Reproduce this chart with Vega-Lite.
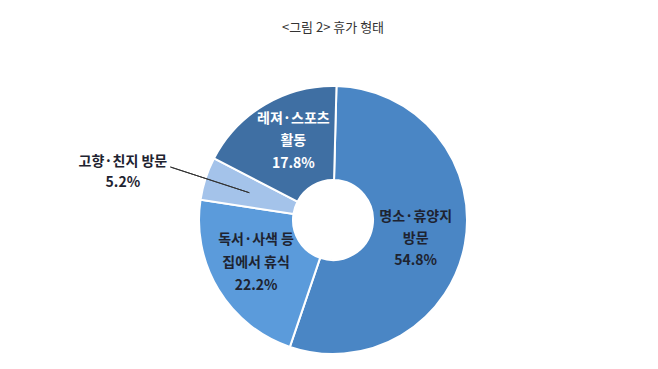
{
  "$schema": "https://vega.github.io/schema/vega-lite/v6.json",
  "autosize": "none",
  "width": 650,
  "height": 298,
  "padding": {"left": 8, "right": 0, "top": 71, "bottom": 0},
  "background": "white",
  "view": {"stroke": null},
  "title": {"text": "<그림 2> 휴가 형태", "font": "Noto Sans CJK KR", "fontSize": 13, "fontWeight": "normal", "color": "#333333", "anchor": "middle", "offset": -2},
  "data": {"values": [
    {"cat": "명소·휴양지 방문", "value": 54.8, "ord": 1, "label": ["명소·휴양지", "방문", "54.8%"]},
    {"cat": "독서·사색 등 집에서 휴식", "value": 22.2, "ord": 2, "label": ["독서·사색 등", "집에서 휴식", "22.2%"]},
    {"cat": "고향·친지 방문", "value": 5.2, "ord": 3, "label": ["고향·친지 방문", "5.2%"]},
    {"cat": "레져·스포츠 활동", "value": 17.8, "ord": 4, "label": ["레져·스포츠", "활동", "17.8%"]}
  ]},
  "encoding": {
    "theta": {"field": "value", "type": "quantitative", "stack": true, "scale": {"range": [0.026, 6.3092]}},
    "order": {"field": "ord", "type": "quantitative"}
  },
  "layer": [
    {
      "mark": {"type": "arc", "radius": 134, "innerRadius": 40, "stroke": "white", "strokeWidth": 2},
      "encoding": {
        "color": {"field": "cat", "type": "nominal", "legend": null,
          "scale": {"domain": ["명소·휴양지 방문", "독서·사색 등 집에서 휴식", "고향·친지 방문", "레져·스포츠 활동"],
                    "range": ["#4a86c5", "#5b9bdb", "#a4c3ea", "#3f6fa3"]}}
      }
    },
    {
      "mark": {"type": "arc", "radius": 171, "innerRadius": 88, "padAngle": 1.5, "filled": false, "stroke": "#333333", "strokeWidth": 1},
      "encoding": {
        "strokeOpacity": {"condition": {"test": "datum.cat === '고향·친지 방문'", "value": 1}, "value": 0}
      }
    },
    {
      "mark": {"type": "text", "radius": 84, "dy": -18, "font": "Noto Sans CJK KR", "fontSize": 14, "fontWeight": "bold", "lineHeight": 22, "color": "#1e2330"},
      "encoding": {
        "text": {"field": "label", "type": "nominal"},
        "opacity": {"condition": {"test": "datum.cat === '명소·휴양지 방문'", "value": 1}, "value": 0}
      }
    },
    {
      "mark": {"type": "text", "radius": 90, "dy": -27, "font": "Noto Sans CJK KR", "fontSize": 14, "fontWeight": "bold", "lineHeight": 23, "color": "#1e2330"},
      "encoding": {
        "text": {"field": "label", "type": "nominal"},
        "opacity": {"condition": {"test": "datum.cat === '독서·사색 등 집에서 휴식'", "value": 1}, "value": 0}
      }
    },
    {
      "mark": {"type": "text", "radius": 78, "dy": -34, "font": "Noto Sans CJK KR", "fontSize": 14, "fontWeight": "bold", "lineHeight": 22.5, "color": "#ffffff"},
      "encoding": {
        "text": {"field": "label", "type": "nominal"},
        "opacity": {"condition": {"test": "datum.cat === '레져·스포츠 활동'", "value": 1}, "value": 0}
      }
    },
    {
      "mark": {"type": "text", "radius": 221, "dy": 10, "font": "Noto Sans CJK KR", "fontSize": 14, "fontWeight": "bold", "lineHeight": 21, "color": "#1e2330"},
      "encoding": {
        "text": {"field": "label", "type": "nominal"},
        "opacity": {"condition": {"test": "datum.cat === '고향·친지 방문'", "value": 1}, "value": 0}
      }
    }
  ]
}
